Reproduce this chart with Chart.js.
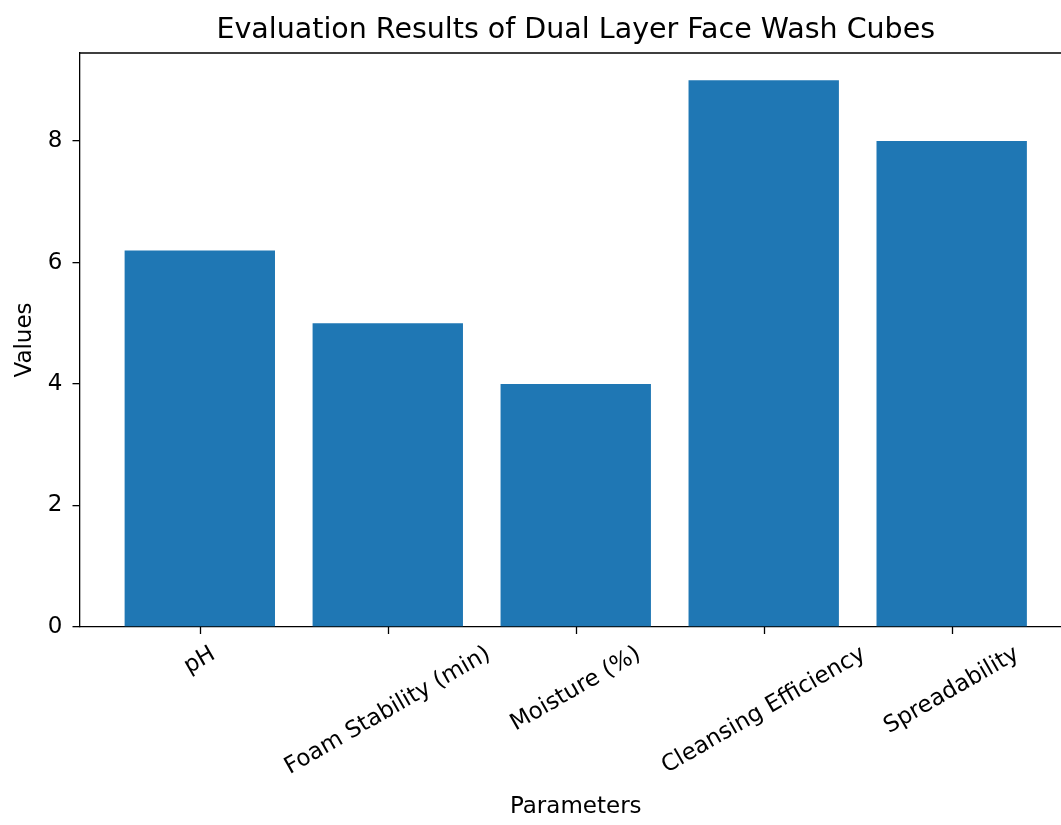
<!DOCTYPE html>
<html><head><meta charset="utf-8">
<script src="https://cdn.jsdelivr.net/npm/chart.js@4/dist/chart.umd.min.js"></script>
<style>html,body{margin:0;padding:0;background:#fff;overflow:hidden;width:1061px;height:825px}canvas{display:block}</style>
</head><body><canvas id="c" width="1072" height="825"></canvas>
<script>
const categories = ['pH', 'Foam Stability (min)', 'Moisture (%)', 'Cleansing Efficiency', 'Spreadability'];
const values = [6.2, 5, 4, 9, 8];
const yTicks = [0, 2, 4, 6, 8];
const titleText = 'Evaluation Results of Dual Layer Face Wash Cubes';
const xLabel = 'Parameters';
const yLabel = 'Values';
const FONT = "'DejaVu Sans', sans-serif";

const decor = {
  id: 'decor',
  afterDraw(chart) {
    const {ctx, chartArea: a, scales: {x}} = chart;
    ctx.save();
    ctx.strokeStyle = '#000'; ctx.lineWidth = 1.3;
    ctx.beginPath(); ctx.moveTo(a.left, a.top); ctx.lineTo(a.right, a.top); ctx.lineTo(a.right, a.bottom); ctx.stroke();
    ctx.lineWidth = 1.3;
    categories.forEach((lab, i) => {
      const px = Math.round(x.getPixelForValue(i)) + 0.5;
      ctx.beginPath(); ctx.moveTo(px, a.bottom); ctx.lineTo(px, a.bottom + 7); ctx.stroke();
    });
    ctx.fillStyle = '#000'; ctx.font = `28.5px ${FONT}`; ctx.textAlign = 'center'; ctx.textBaseline = 'alphabetic';
    ctx.fillText(titleText, (a.left + a.right) / 2, 38);
    ctx.font = `23px ${FONT}`;
    const ang = 30 * Math.PI / 180, c = Math.cos(ang), s = Math.sin(ang);
    const h = 23 * 1.164;
    const yTop = a.bottom + 14;
    categories.forEach((lab, i) => {
      const px = x.getPixelForValue(i);
      const w = ctx.measureText(lab).width;
      const H = w * s + h * c;
      ctx.save(); ctx.translate(px, yTop + H / 2); ctx.rotate(-ang);
      ctx.textAlign = 'center'; ctx.textBaseline = 'middle'; ctx.fillText(lab, 0, 0); ctx.restore();
    });
    ctx.restore();
  }
};

const borderOpts = {display: true, color: '#000', width: 1.3};

new Chart(document.getElementById('c'), {
  type: 'bar',
  data: {
    datasets: [{
      data: categories.map((c, i) => ({x: i, y: values[i]})),
      backgroundColor: '#1f77b4', borderWidth: 0,
      barPercentage: 0.8, categoryPercentage: 1
    }]
  },
  options: {
    responsive: false, animation: false, devicePixelRatio: 1,
    layout: {padding: {top: 53, left: 0, right: 0, bottom: 0}},
    plugins: {legend: {display: false}, tooltip: {enabled: false}, title: {display: false}},
    scales: {
      x: {
        type: 'linear', min: -0.64, max: 4.64, offset: false,
        afterBuildTicks: sc => { sc.ticks = categories.map((c, i) => ({value: i})); },
        afterFit: sc => { sc.height = 198; },
        ticks: {display: false},
        grid: {display: false},
        border: borderOpts,
        title: {display: true, text: xLabel, font: {family: FONT, size: 23}, color: '#000', padding: {top: 0, bottom: 4.2}}
      },
      y: {
        min: 0, max: 9.45,
        afterBuildTicks: sc => { sc.ticks = yTicks.map(v => ({value: v})); },
        afterFit: sc => { sc.width = 79.5; },
        ticks: {font: {family: FONT, size: 23}, color: '#000', padding: 10},
        grid: {display: true, drawOnChartArea: false, drawTicks: true, tickLength: 7, color: '#000', lineWidth: 1.3},
        border: borderOpts,
        title: {display: true, text: yLabel, font: {family: FONT, size: 23}, color: '#000', padding: {top: 11.2, bottom: 0}}
      }
    }
  },
  plugins: [decor]
});
</script>
</body></html>
